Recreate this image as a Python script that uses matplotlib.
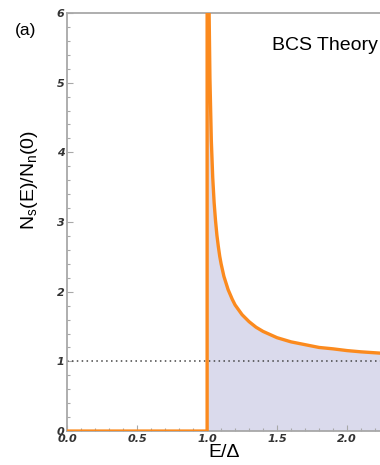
import matplotlib
matplotlib.use('Agg')
import matplotlib.pyplot as plt
from matplotlib.ticker import MultipleLocator

# density of states (E in units of the gap)
energy = [0.0, 1.0, 1.0, 1.014, 1.02, 1.03, 1.04, 1.05, 1.06, 1.07, 1.08, 1.09,
          1.1, 1.12, 1.15, 1.18, 1.2, 1.25, 1.3, 1.35, 1.4, 1.5, 1.6, 1.7,
          1.8, 1.9, 2.0, 2.1, 2.24]
dos = [0.0, 0.0, 9.0, 6.04, 5.07, 4.17, 3.64, 3.28, 3.02, 2.81, 2.65, 2.51,
       2.40, 2.22, 2.03, 1.89, 1.81, 1.67, 1.57, 1.49, 1.43, 1.34, 1.28, 1.24,
       1.20, 1.18, 1.155, 1.137, 1.118]
normal_level = 1.0
x_ticks = [0.0, 0.5, 1.0, 1.5, 2.0]
y_ticks = [0, 1, 2, 3, 4, 5, 6]

orange = '#fb8a1e'
fill_col = '#dadaec'
spine_col = '#a8a8a8'

fig = plt.figure(figsize=(3.8, 4.65), dpi=100)
ax = fig.add_axes([0.177, 0.073, 0.823, 0.899])

# shaded region under the curve above the gap
ax.fill_between(energy[2:], 0, dos[2:], color=fill_col, lw=0, zorder=1)
ax.axhline(normal_level, color='#444444', ls=(0, (1, 2.2)), lw=1.1, zorder=2)
ax.plot(energy, dos, color=orange, lw=2.4, solid_joinstyle='round', zorder=3)

ax.set_xlim(0, 2.236)
ax.set_ylim(0, 6)
ax.set_xticks(x_ticks)
ax.set_yticks(y_ticks)
ax.xaxis.set_minor_locator(MultipleLocator(0.1))
ax.yaxis.set_minor_locator(MultipleLocator(0.2))
ax.set_xticklabels([f'{t:.1f}' for t in x_ticks])
ax.set_yticklabels([str(t) for t in y_ticks])

for s in ['left', 'bottom', 'top']:
    ax.spines[s].set_color(spine_col)
    ax.spines[s].set_linewidth(1.3)
ax.spines['right'].set_visible(False)

ax.tick_params(which='both', direction='in', color=spine_col, width=0.8,
               top=False, right=False)
ax.tick_params(which='major', length=4, pad=2)
ax.tick_params(which='minor', length=2.5)
for lab in ax.get_xticklabels() + ax.get_yticklabels():
    lab.set_fontstyle('italic')
    lab.set_fontweight('bold')
    lab.set_fontsize(8)
    lab.set_color('#333333')

ax.set_xlabel('E/Δ', fontsize=14, family='Liberation Sans', labelpad=0)
fig.text(0.077, 0.613, r'N$_{\mathregular{s}}$(E)/N$_{\mathregular{n}}$(0)',
         rotation=90, ha='center', va='center', fontsize=14,
         family='Liberation Sans')
fig.text(0.040, 0.935, '(a)', fontsize=12.5, family='Liberation Sans',
         ha='left', va='center')
fig.text(0.995, 0.903, 'BCS Theory', fontsize=14, family='Liberation Sans',
         ha='right', va='center')

fig.savefig('out.png', dpi=100)
